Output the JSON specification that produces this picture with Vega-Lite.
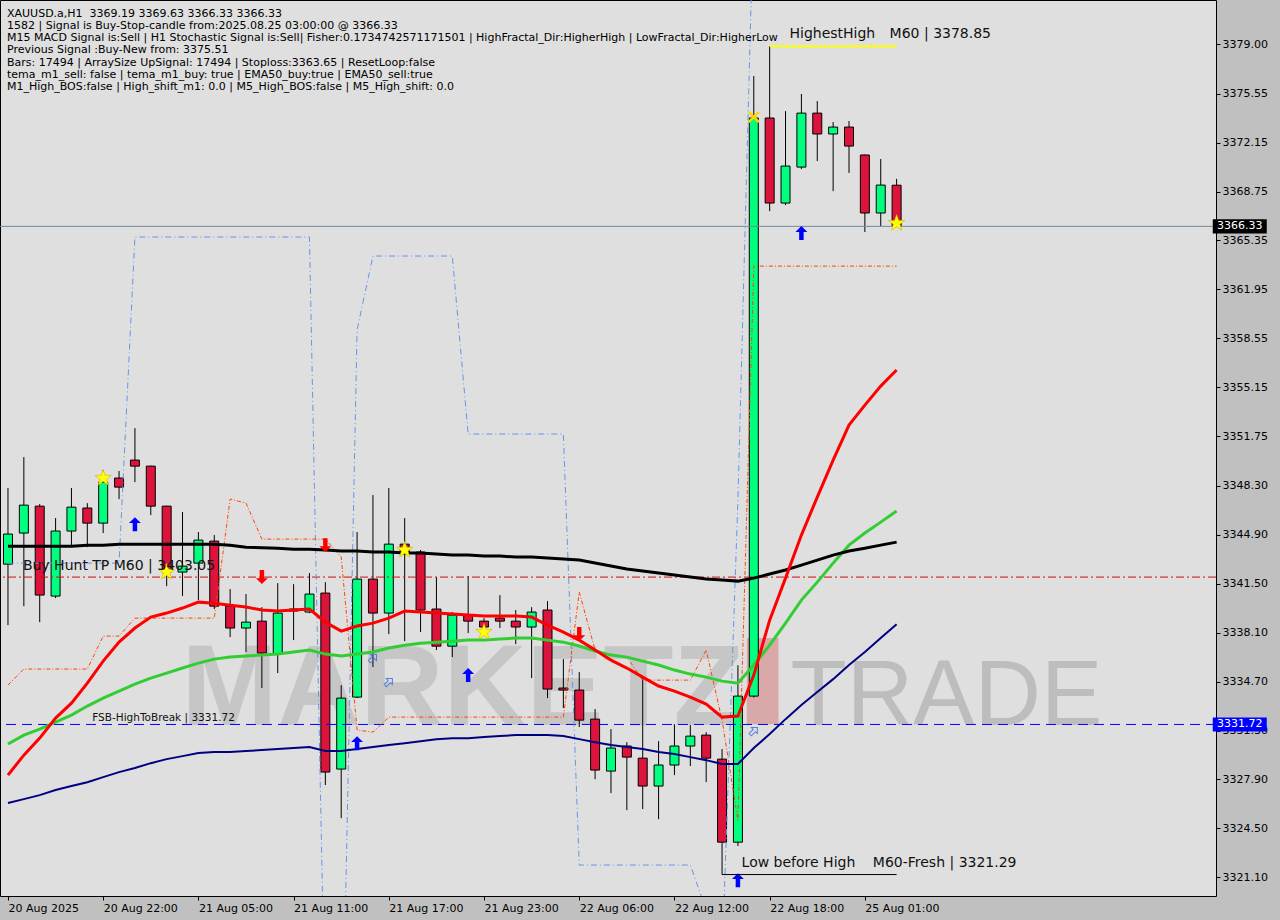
{
"$schema": "https://vega.github.io/schema/vega-lite/v6.json",
"width": 1216, "height": 896,
"autosize": {"type": "none"},
"padding": {"left": 0, "top": 0, "right": 64, "bottom": 24},
"background": "#c0c0c0",
"title": {"text": ["\u2007\u2007XAUUSD.a,H1\u00a0\u00a03369.19 3369.63 3366.33 3366.33", "1582 | Signal is Buy-Stop-candle from:2025.08.25 03:00:00 @ 3366.33", "M15 MACD Signal is:Sell | H1 Stochastic Signal is:Sell| Fisher:0.1734742571171501 | HighFractal_Dir:HigherHigh | LowFractal_Dir:HigherLow", "Previous Signal :Buy-New from: 3375.51", "Bars: 17494 | ArraySize UpSignal: 17494 | Stoploss:3363.65 | ResetLoop:false", "tema_m1_sell: false | tema_m1_buy: true | EMA50_buy:true | EMA50_sell:true", "M1_High_BOS:false | High_shift_m1: 0.0 | M5_High_BOS:false | M5_High_shift: 0.0"],
 "anchor": "start", "frame": "group", "orient": "top", "offset": 0, "dx": 7, "dy": 103, "baseline": "bottom", "font": "DejaVu Sans", "fontSize": 11, "fontWeight": "normal", "color": "#000000", "lineHeight": 12.2},
"datasets": {
"c": [
{"k":0,"o":3342.86,"h":3348.15,"l":3338.62,"c":3344.95,"r":3328.20,"g":3330.36,"b":3344.11,"n":3326.26},
{"k":1,"o":3345.02,"h":3350.30,"l":3339.94,"c":3346.96,"r":3329.59,"g":3330.98,"b":3344.11,"n":3326.53},
{"k":2,"o":3346.89,"h":3347.03,"l":3338.83,"c":3340.71,"r":3330.77,"g":3331.40,"b":3344.11,"n":3326.81},
{"k":3,"o":3340.64,"h":3346.06,"l":3340.50,"c":3345.16,"r":3332.16,"g":3331.88,"b":3344.11,"n":3327.16},
{"k":4,"o":3345.16,"h":3348.15,"l":3344.04,"c":3346.82,"r":3333.20,"g":3332.37,"b":3344.11,"n":3327.44},
{"k":5,"o":3346.76,"h":3347.10,"l":3344.04,"c":3345.71,"r":3334.59,"g":3333.00,"b":3344.18,"n":3327.71},
{"k":6,"o":3345.71,"h":3349.40,"l":3345.02,"c":3348.56,"r":3336.12,"g":3333.55,"b":3344.18,"n":3328.06},
{"k":7,"o":3348.84,"h":3349.33,"l":3347.38,"c":3348.21,"r":3337.44,"g":3334.04,"b":3344.25,"n":3328.41},
{"k":8,"o":3350.09,"h":3352.31,"l":3348.56,"c":3349.67,"r":3338.42,"g":3334.52,"b":3344.25,"n":3328.69},
{"k":9,"o":3349.67,"h":3349.70,"l":3346.27,"c":3346.89,"r":3339.18,"g":3334.94,"b":3344.25,"n":3329.03},
{"k":10,"o":3346.89,"h":3346.92,"l":3341.33,"c":3342.31,"r":3339.46,"g":3335.29,"b":3344.25,"n":3329.31},
{"k":11,"o":3342.31,"h":3346.48,"l":3340.64,"c":3342.72,"r":3339.81,"g":3335.64,"b":3344.25,"n":3329.52},
{"k":12,"o":3342.93,"h":3345.09,"l":3340.36,"c":3344.53,"r":3340.22,"g":3335.98,"b":3344.25,"n":3329.73},
{"k":13,"o":3344.46,"h":3344.88,"l":3339.74,"c":3339.94,"r":3340.15,"g":3336.26,"b":3344.25,"n":3329.80},
{"k":14,"o":3339.94,"h":3341.13,"l":3337.79,"c":3338.42,"r":3340.01,"g":3336.40,"b":3344.18,"n":3329.80},
{"k":15,"o":3338.42,"h":3340.78,"l":3336.75,"c":3338.83,"r":3339.88,"g":3336.47,"b":3344.04,"n":3329.87},
{"k":16,"o":3338.90,"h":3339.87,"l":3334.25,"c":3336.68,"r":3339.67,"g":3336.54,"b":3344.00,"n":3329.94},
{"k":17,"o":3336.61,"h":3341.54,"l":3335.29,"c":3339.46,"r":3339.60,"g":3336.61,"b":3343.97,"n":3330.01},
{"k":18,"o":3339.60,"h":3341.47,"l":3337.58,"c":3339.74,"r":3339.67,"g":3336.75,"b":3343.90,"n":3330.08},
{"k":19,"o":3339.53,"h":3342.24,"l":3339.45,"c":3340.78,"r":3339.74,"g":3336.89,"b":3343.90,"n":3330.15},
{"k":20,"o":3340.85,"h":3341.61,"l":3327.51,"c":3328.41,"r":3338.83,"g":3336.61,"b":3343.84,"n":3329.87},
{"k":21,"o":3328.62,"h":3334.45,"l":3325.21,"c":3333.55,"r":3338.21,"g":3336.47,"b":3343.77,"n":3329.87},
{"k":22,"o":3333.62,"h":3345.09,"l":3333.55,"c":3341.82,"r":3338.56,"g":3336.61,"b":3343.77,"n":3330.01},
{"k":23,"o":3341.82,"h":3347.66,"l":3335.71,"c":3339.46,"r":3338.76,"g":3336.75,"b":3343.70,"n":3330.15},
{"k":24,"o":3339.46,"h":3348.15,"l":3338.00,"c":3344.25,"r":3339.11,"g":3337.03,"b":3343.70,"n":3330.29},
{"k":25,"o":3344.25,"h":3346.06,"l":3337.51,"c":3343.63,"r":3339.60,"g":3337.23,"b":3343.63,"n":3330.42},
{"k":26,"o":3343.70,"h":3343.84,"l":3338.14,"c":3339.67,"r":3339.53,"g":3337.37,"b":3343.63,"n":3330.56},
{"k":27,"o":3339.74,"h":3341.96,"l":3336.89,"c":3337.16,"r":3339.46,"g":3337.44,"b":3343.56,"n":3330.70},
{"k":28,"o":3337.16,"h":3339.53,"l":3336.40,"c":3339.32,"r":3339.39,"g":3337.51,"b":3343.49,"n":3330.77},
{"k":29,"o":3339.32,"h":3342.03,"l":3338.07,"c":3338.90,"r":3339.32,"g":3337.58,"b":3343.49,"n":3330.77},
{"k":30,"o":3338.90,"h":3339.11,"l":3338.14,"c":3338.49,"r":3339.25,"g":3337.58,"b":3343.42,"n":3330.84},
{"k":31,"o":3339.11,"h":3340.71,"l":3338.42,"c":3338.90,"r":3339.25,"g":3337.65,"b":3343.42,"n":3330.91},
{"k":32,"o":3338.90,"h":3339.67,"l":3337.30,"c":3338.49,"r":3339.25,"g":3337.72,"b":3343.35,"n":3330.98},
{"k":33,"o":3338.49,"h":3339.87,"l":3334.94,"c":3339.53,"r":3339.18,"g":3337.72,"b":3343.35,"n":3330.98},
{"k":34,"o":3339.67,"h":3340.29,"l":3333.55,"c":3334.18,"r":3338.62,"g":3337.58,"b":3343.28,"n":3330.98},
{"k":35,"o":3334.25,"h":3336.26,"l":3332.86,"c":3334.11,"r":3338.14,"g":3337.44,"b":3343.21,"n":3330.91},
{"k":36,"o":3334.11,"h":3335.36,"l":3331.54,"c":3332.02,"r":3337.58,"g":3337.17,"b":3343.14,"n":3330.70},
{"k":37,"o":3332.09,"h":3332.79,"l":3327.92,"c":3328.55,"r":3336.89,"g":3336.82,"b":3342.94,"n":3330.49},
{"k":38,"o":3328.48,"h":3331.40,"l":3326.95,"c":3330.08,"r":3336.19,"g":3336.54,"b":3342.73,"n":3330.29},
{"k":39,"o":3330.22,"h":3330.49,"l":3325.77,"c":3329.45,"r":3335.64,"g":3336.40,"b":3342.52,"n":3330.15},
{"k":40,"o":3329.38,"h":3335.01,"l":3325.84,"c":3327.44,"r":3335.01,"g":3336.12,"b":3342.38,"n":3330.01},
{"k":41,"o":3327.44,"h":3330.56,"l":3325.14,"c":3328.90,"r":3334.39,"g":3335.85,"b":3342.24,"n":3329.80},
{"k":42,"o":3328.90,"h":3331.74,"l":3328.20,"c":3330.22,"r":3334.04,"g":3335.50,"b":3342.10,"n":3329.66},
{"k":43,"o":3330.22,"h":3331.68,"l":3328.83,"c":3330.91,"r":3333.62,"g":3335.22,"b":3341.96,"n":3329.45},
{"k":44,"o":3330.98,"h":3331.19,"l":3327.71,"c":3329.38,"r":3333.13,"g":3335.01,"b":3341.82,"n":3329.24},
{"k":45,"o":3329.31,"h":3330.01,"l":3323.47,"c":3323.54,"r":3332.23,"g":3334.73,"b":3341.75,"n":3328.97},
{"k":46,"o":3323.54,"h":3335.84,"l":3323.27,"c":3333.69,"r":3332.30,"g":3334.59,"b":3341.68,"n":3328.97},
{"k":47,"o":3333.69,"h":3376.78,"l":3333.60,"c":3373.86,"r":3335.15,"g":3335.85,"b":3341.89,"n":3330.08},
{"k":48,"o":3373.86,"h":3378.85,"l":3367.39,"c":3367.95,"r":3338.97,"g":3337.23,"b":3342.17,"n":3331.05},
{"k":49,"o":3367.95,"h":3374.34,"l":3367.81,"c":3370.52,"r":3341.89,"g":3338.76,"b":3342.45,"n":3332.09},
{"k":50,"o":3370.45,"h":3375.53,"l":3370.31,"c":3374.20,"r":3344.88,"g":3340.36,"b":3342.79,"n":3333.07},
{"k":51,"o":3374.20,"h":3375.04,"l":3370.87,"c":3372.75,"r":3347.52,"g":3341.61,"b":3343.14,"n":3333.97},
{"k":52,"o":3372.75,"h":3373.58,"l":3368.78,"c":3373.23,"r":3350.09,"g":3342.93,"b":3343.49,"n":3334.87},
{"k":53,"o":3373.23,"h":3373.65,"l":3370.04,"c":3371.91,"r":3352.52,"g":3344.18,"b":3343.77,"n":3335.85},
{"k":54,"o":3371.29,"h":3371.32,"l":3365.94,"c":3367.26,"r":3353.91,"g":3345.02,"b":3343.97,"n":3336.75},
{"k":55,"o":3367.26,"h":3371.01,"l":3366.35,"c":3369.20,"r":3355.23,"g":3345.78,"b":3344.18,"n":3337.72},
{"k":56,"o":3369.19,"h":3369.63,"l":3366.33,"c":3366.33,"r":3356.35,"g":3346.55,"b":3344.39,"n":3338.69}
],
"blue": [
{"k":0,"p":3342.93},{"k":7,"p":3342.93},{"k":8,"p":3365.59},{"k":19,"p":3365.59},{"k":20,"p":3309.79},{"k":21,"p":3304.23},{"k":22,"p":3359.13},{"k":23,"p":3364.27},{"k":28,"p":3364.27},{"k":29,"p":3351.90},{"k":35,"p":3351.90},{"k":36,"p":3321.95},{"k":43,"p":3321.95},{"k":44,"p":3318.82},{"k":45,"p":3315.34},{"k":46,"p":3347.31},{"k":47,"p":3389.01}
],
"orange": [
{"k":0,"p":3334.46},{"k":1,"p":3335.57},{"k":5,"p":3335.57},{"k":6,"p":3337.86},{"k":7,"p":3337.86},{"k":8,"p":3339.11},{"k":13,"p":3339.11},{"k":14,"p":3347.38},{"k":15,"p":3347.10},{"k":16,"p":3344.60},{"k":20,"p":3344.60},{"k":21,"p":3343.35},{"k":22,"p":3331.33},{"k":23,"p":3331.19},{"k":24,"p":3332.23},{"k":35,"p":3332.23},{"k":36,"p":3340.92},{"k":37,"p":3336.89},{"k":38,"p":3336.54},{"k":39,"p":3336.40},{"k":40,"p":3334.80},{"k":43,"p":3334.80},{"k":44,"p":3336.89},{"k":45,"p":3332.02},{"k":46,"p":3325.07},{"k":47,"p":3363.57},{"k":56,"p":3363.57}
],
"stars": [{"k":6,"p":3348.84},{"k":10,"p":3342.31},{"k":25,"p":3343.84},{"k":30,"p":3338.14},{"k":56,"p":3366.55}],
"ups": [{"k":8,"p":3345.64},{"k":22,"p":3330.42},{"k":29,"p":3335.15},{"k":46,"p":3320.90},{"k":50,"p":3365.87}],
"downs": [{"k":16,"p":3341.96},{"k":20,"p":3344.18},{"k":36,"p":3338.00}],
"xs": [{"k":47,"p":3373.93}],
"hollow": [{"k":23,"p":3336.33},{"k":24,"p":3334.66},{"k":47,"p":3331.26}],
"big": [{"k":49.25,"p":3379.70,"t":"HighestHigh"},{"k":55.56,"p":3379.70,"t":"M60 | 3378.85"},{"k":46.23,"p":3322.10,"t":"Low before High"},{"k":54.5,"p":3322.10,"t":"M60-Fresh | 3321.29"},{"k":0.94,"p":3342.72,"t":"Buy Hunt TP M60 | 3403.05"}],
"small": [{"k":5.31,"p":3332.16,"t":"FSB-HighToBreak | 3331.72"}]
},
"layer": [
{"data": {"values": [{"k":46.56,"k2":48.56,"p":3331.74,"p2":3337.72}]},
 "mark": {"type": "rect", "color": "#d9a8a8"},
 "encoding": {"x": {"field":"k","type":"quantitative","scale":{"domain":[-0.1875,75.8125],"nice":false,"zero":false},"title":null},"x2":{"field":"k2"},
  "y": {"field":"p","type":"quantitative","scale":{"domain":[3319.8,3382.06],"nice":false,"zero":false},"title":null},"y2":{"field":"p2"}}},
{"data": {"values": [{"k":10.94,"p":3331.68,"t":"MARKETZ"}]},
 "mark": {"type": "text", "align": "left", "baseline": "alphabetic", "font": "Liberation Sans", "fontWeight": "bold", "fontSize": 115, "color": "#c6c6c6"},
 "encoding": {"x": {"field":"k","type":"quantitative","title":null},"y": {"field":"p","type":"quantitative","title":null},"text":{"field":"t"}}},
{"data": {"values": [{"k":49.31,"p":3331.68,"t":"TRADE"}]},
 "mark": {"type": "text", "align": "left", "baseline": "alphabetic", "font": "Liberation Sans", "fontWeight": "normal", "fontSize": 92, "color": "#bdbdbd"},
 "encoding": {"x": {"field":"k","type":"quantitative","title":null},"y": {"field":"p","type":"quantitative","title":null},"text":{"field":"t"}}},
{"data": {"name": "c"},
 "mark": {"type": "rule", "color": "#000000", "strokeWidth": 1},
 "encoding": {
  "x": {"field":"k","type":"quantitative","scale":{"domain":[-0.1875,75.8125],"nice":false,"zero":false},
   "axis": {"orient":"bottom","title":null,"values":[0,6,12,18,24,30,36,42,48,54],
    "labelExpr":"['20 Aug 2025','20 Aug 22:00','21 Aug 05:00','21 Aug 11:00','21 Aug 17:00','21 Aug 23:00','22 Aug 06:00','22 Aug 12:00','22 Aug 18:00','25 Aug 01:00'][round(datum.value/6)]",
    "labelAlign":"left","labelBaseline":"top","labelPadding":2,"labelOverlap":false,"labelFlush":false,"labelBound":false,"tickSize":4,"domain":false,"grid":false}},
  "y": {"field":"l","type":"quantitative","scale":{"domain":[3319.8,3382.06],"nice":false,"zero":false},
   "axis": {"orient":"right","title":null,"values":[3321.10,3324.50,3327.90,3331.30,3334.70,3338.10,3341.50,3344.90,3348.30,3351.75,3355.15,3358.55,3361.95,3365.35,3368.75,3372.15,3375.55,3379.00],
    "format":".2f","labelAlign":"left","labelBaseline":"middle","labelPadding":2,"labelOverlap":false,"labelFlush":false,"labelBound":false,"tickSize":4,"domain":false,"grid":false}},
  "y2": {"field":"h"}}},
{"data": {"name": "c"},
 "mark": {"type": "bar", "width": 9, "stroke": "#000000", "strokeWidth": 1},
 "encoding": {"x": {"field":"k","type":"quantitative","title":null},"y": {"field":"o","type":"quantitative","title":null},"y2":{"field":"c"},
  "color": {"condition": {"test": "datum.c >= datum.o", "value": "#00FF7F"}, "value": "#DC143C"}}},
{"data": {"values": [{"p":3341.96}]},
 "mark": {"type": "rule", "color": "#d01010", "strokeWidth": 1, "strokeDash": [8,3,2,3]},
 "encoding": {"y": {"field":"p","type":"quantitative","title":null}}},
{"data": {"values": [{"p":3331.72}]},
 "mark": {"type": "rule", "color": "#0000FF", "strokeWidth": 1, "strokeDash": [10,6]},
 "encoding": {"y": {"field":"p","type":"quantitative","title":null}}},
{"data": {"values": [{"p":3366.33}]},
 "mark": {"type": "rule", "color": "#778899", "strokeWidth": 1},
 "encoding": {"y": {"field":"p","type":"quantitative","title":null}}},
{"data": {"name": "blue"},
 "mark": {"type": "line", "color": "#6495ED", "strokeWidth": 1, "strokeDash": [6,3,1,3], "clip": true},
 "encoding": {"x": {"field":"k","type":"quantitative","title":null},"y": {"field":"p","type":"quantitative","title":null}}},
{"data": {"name": "orange"},
 "mark": {"type": "line", "color": "#FF4500", "strokeWidth": 1, "strokeDash": [4,2,1,2], "clip": true},
 "encoding": {"x": {"field":"k","type":"quantitative","title":null},"y": {"field":"p","type":"quantitative","title":null}}},
{"data": {"name": "c"},
 "mark": {"type": "line", "color": "#000080", "strokeWidth": 2},
 "encoding": {"x": {"field":"k","type":"quantitative","title":null},"y": {"field":"n","type":"quantitative","title":null}}},
{"data": {"name": "c"},
 "mark": {"type": "line", "color": "#32CD32", "strokeWidth": 3},
 "encoding": {"x": {"field":"k","type":"quantitative","title":null},"y": {"field":"g","type":"quantitative","title":null}}},
{"data": {"name": "c"},
 "mark": {"type": "line", "color": "#000000", "strokeWidth": 3},
 "encoding": {"x": {"field":"k","type":"quantitative","title":null},"y": {"field":"b","type":"quantitative","title":null}}},
{"data": {"name": "c"},
 "mark": {"type": "line", "color": "#FF0000", "strokeWidth": 3},
 "encoding": {"x": {"field":"k","type":"quantitative","title":null},"y": {"field":"r","type":"quantitative","title":null}}},
{"data": {"name": "stars"},
 "mark": {"type": "point", "shape": "M0,-1L0.235,-0.324L0.951,-0.309L0.38,0.124L0.588,0.809L0,0.4L-0.588,0.809L-0.38,0.124L-0.951,-0.309L-0.235,-0.324Z", "size": 300, "filled": true, "fill": "#FFFF00", "stroke": "#d4b000", "strokeWidth": 0.6, "opacity": 1},
 "encoding": {"x": {"field":"k","type":"quantitative","title":null},"y": {"field":"p","type":"quantitative","title":null}}},
{"data": {"name": "ups"},
 "mark": {"type": "point", "shape": "M0,-1L0.85,-0.15L0.32,-0.15L0.32,1L-0.32,1L-0.32,-0.15L-0.85,-0.15Z", "size": 196, "filled": true, "fill": "#0000FF", "strokeWidth": 0, "opacity": 1},
 "encoding": {"x": {"field":"k","type":"quantitative","title":null},"y": {"field":"p","type":"quantitative","title":null}}},
{"data": {"name": "downs"},
 "mark": {"type": "point", "shape": "M0,1L0.85,0.15L0.32,0.15L0.32,-1L-0.32,-1L-0.32,0.15L-0.85,0.15Z", "size": 196, "filled": true, "fill": "#FF0000", "strokeWidth": 0, "opacity": 1},
 "encoding": {"x": {"field":"k","type":"quantitative","title":null},"y": {"field":"p","type":"quantitative","title":null}}},
{"data": {"name": "xs"},
 "mark": {"type": "point", "shape": "M-1,-0.7L-0.7,-1L0,-0.3L0.7,-1L1,-0.7L0.3,0L1,0.7L0.7,1L0,0.3L-0.7,1L-1,0.7L-0.3,0Z", "size": 144, "filled": true, "fill": "#FFD700", "strokeWidth": 0, "opacity": 1},
 "encoding": {"x": {"field":"k","type":"quantitative","title":null},"y": {"field":"p","type":"quantitative","title":null}}},
{"data": {"name": "hollow"},
 "mark": {"type": "point", "shape": "M0,-1L0.85,-0.15L0.32,-0.15L0.32,1L-0.32,1L-0.32,-0.15L-0.85,-0.15Z", "angle": 45, "size": 100, "filled": false, "stroke": "#4f7fe0", "strokeWidth": 1, "opacity": 1},
 "encoding": {"x": {"field":"k","type":"quantitative","title":null},"y": {"field":"p","type":"quantitative","title":null}}},
{"data": {"values": [{"k":48,"k2":56,"p":3378.85}]},
 "mark": {"type": "rule", "color": "#FFFF00", "strokeWidth": 2},
 "encoding": {"x": {"field":"k","type":"quantitative","title":null},"x2":{"field":"k2"},"y": {"field":"p","type":"quantitative","title":null}}},
{"data": {"values": [{"k":45,"k2":56,"p":3321.29}]},
 "mark": {"type": "rule", "color": "#000000", "strokeWidth": 1},
 "encoding": {"x": {"field":"k","type":"quantitative","title":null},"x2":{"field":"k2"},"y": {"field":"p","type":"quantitative","title":null}}},
{"data": {"values": [{"k":45,"p":3323.47,"p2":3321.29}]},
 "mark": {"type": "rule", "color": "#000000", "strokeWidth": 1},
 "encoding": {"x": {"field":"k","type":"quantitative","title":null},"y": {"field":"p","type":"quantitative","title":null},"y2":{"field":"p2"}}},
{"data": {"name": "big"},
 "mark": {"type": "text", "align": "left", "baseline": "middle", "font": "DejaVu Sans", "fontSize": 14, "color": "#111111"},
 "encoding": {"x": {"field":"k","type":"quantitative","title":null},"y": {"field":"p","type":"quantitative","title":null},"text":{"field":"t"}}},
{"data": {"name": "small"},
 "mark": {"type": "text", "align": "left", "baseline": "middle", "font": "DejaVu Sans", "fontSize": 10.5, "color": "#111111"},
 "encoding": {"x": {"field":"k","type":"quantitative","title":null},"y": {"field":"p","type":"quantitative","title":null},"text":{"field":"t"}}},
{"data": {"values": [{"p":3366.33,"t":"3366.33"}]},
 "mark": {"type": "point", "shape": "M-1,-0.26L1,-0.26L1,0.26L-1,0.26Z", "size": 2916, "filled": true, "fill": "#000000", "strokeWidth": 0, "opacity": 1},
 "encoding": {"x": {"datum": 77.625, "type":"quantitative","title":null},"y": {"field":"p","type":"quantitative","title":null}}},
{"data": {"values": [{"p":3331.72,"t":"3331.72"}]},
 "mark": {"type": "point", "shape": "M-1,-0.26L1,-0.26L1,0.26L-1,0.26Z", "size": 2916, "filled": true, "fill": "#0000FF", "strokeWidth": 0, "opacity": 1},
 "encoding": {"x": {"datum": 77.625, "type":"quantitative","title":null},"y": {"field":"p","type":"quantitative","title":null}}},
{"data": {"values": [{"p":3366.33,"t":"3366.33"},{"p":3331.72,"t":"3331.72"}]},
 "mark": {"type": "text", "align": "center", "baseline": "middle", "font": "DejaVu Sans", "fontSize": 11, "color": "#ffffff"},
 "encoding": {"x": {"datum": 77.625, "type":"quantitative","title":null},"y": {"field":"p","type":"quantitative","title":null},"text":{"field":"t"}}}
],
"config": {
 "view": {"fill": "#dfdfdf", "stroke": "#000000", "strokeWidth": 1},
 "axis": {"labelFont": "DejaVu Sans", "labelFontSize": 11, "labelColor": "#000000", "tickColor": "#000000", "domain": false, "grid": false, "ticks": true}
}
}
